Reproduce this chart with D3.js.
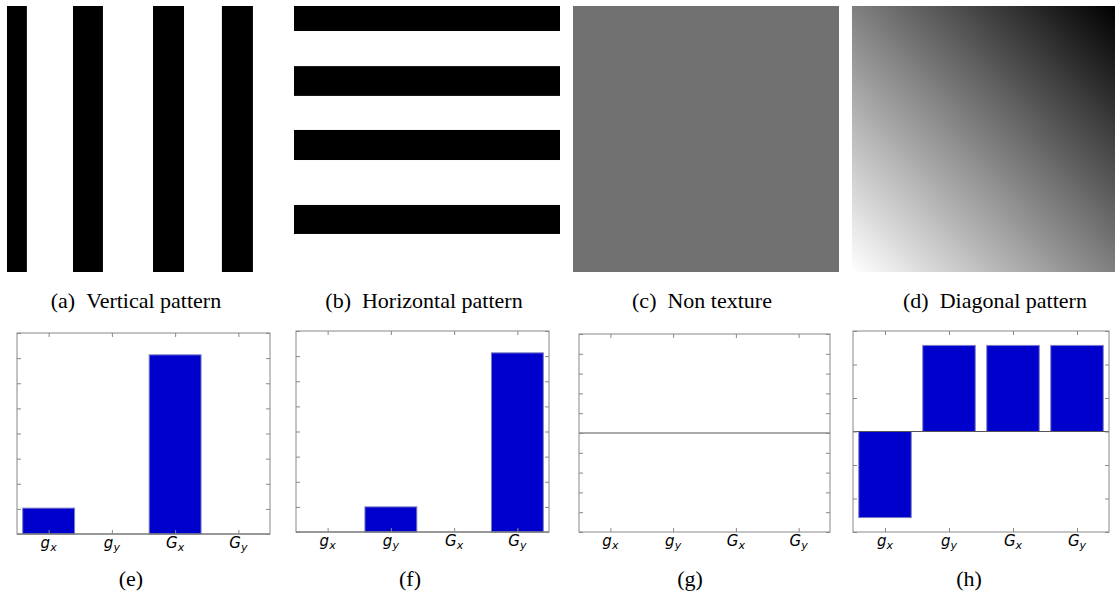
<!DOCTYPE html>
<html>
<head>
<meta charset="utf-8">
<script src="https://cdn.jsdelivr.net/npm/d3@7"></script>
<style>
  body { margin: 0; background: #fff; }
  svg { display: block; }
</style>
</head>
<body>
<div id="chart"></div>
<script>
// category labels (mathtext style: base + subscript)
var categories = ["g_x", "g_y", "G_x", "G_y"];
var catBase = ["g", "g", "G", "G"];
var catSub = ["x", "y", "x", "y"];

// bar values for the four histograms
var valuesE = [1.03, 0, 7.13, 0];
var valuesF = [0, 1.0, 0, 7.13];
var valuesG = [0, 0, 0, 0];
var valuesH = [-2.57, 2.57, 2.57, 2.57];

// y domains of the histograms
var domainE = [0, 8];
var domainF = [0, 8];
var domainG = [-0.05, 0.05];
var domainH = [-3, 3];

// texture images, in image units 0..100
var verticalStripes = [[0, 7.5], [24.9, 36.2], [55.1, 66.8], [81.1, 92.8]];
var horizontalStripes = [[0, 9.4], [22.6, 33.8], [46.6, 57.9], [74.8, 85.7]];
var flatGray = 0.443;
var diagonalStops = [[0, 1], [1, 0]];   // offset, brightness (bottom-left -> top-right)

var topLabels = ["(a)", "(b)", "(c)", "(d)"];
var topTitles = ["Vertical pattern", "Horizontal pattern", "Non texture", "Diagonal pattern"];
var bottomLabels = ["(e)", "(f)", "(g)", "(h)"];

var svg = d3.select("#chart").append("svg")
    .attr("width", 1115)
    .attr("height", 593);

var defs = svg.append("defs");
var grad = defs.append("linearGradient")
    .attr("id", "diag")
    .attr("x1", 0).attr("y1", 1).attr("x2", 1).attr("y2", 0);
grad.selectAll("stop")
    .data(diagonalStops)
  .enter().append("stop")
    .attr("offset", function(d) { return d[0]; })
    .attr("stop-color", function(d) { return d3.rgb(d[1] * 255, d[1] * 255, d[1] * 255); });

// ---- top row: pattern images
var imgBoxes = [
  {x: 7, y: 6, w: 265, h: 266},
  {x: 294, y: 6, w: 266, h: 266},
  {x: 573, y: 6, w: 266, h: 266},
  {x: 852, y: 6, w: 263, h: 266}
];

function imgScales(b) {
  return {
    x: d3.scaleLinear().domain([0, 100]).range([b.x, b.x + b.w]),
    y: d3.scaleLinear().domain([0, 100]).range([b.y, b.y + b.h])
  };
}

// (a) vertical
var ba = imgBoxes[0], sa = imgScales(ba);
svg.append("rect").attr("x", ba.x).attr("y", ba.y).attr("width", ba.w).attr("height", ba.h).attr("fill", "#fff");
svg.append("g").selectAll("rect")
    .data(verticalStripes)
  .enter().append("rect")
    .attr("x", function(d) { return sa.x(d[0]); })
    .attr("width", function(d) { return sa.x(d[1]) - sa.x(d[0]); })
    .attr("y", ba.y)
    .attr("height", ba.h)
    .attr("fill", "#000");

// (b) horizontal
var bb = imgBoxes[1], sb = imgScales(bb);
svg.append("rect").attr("x", bb.x).attr("y", bb.y).attr("width", bb.w).attr("height", bb.h).attr("fill", "#fff");
svg.append("g").selectAll("rect")
    .data(horizontalStripes)
  .enter().append("rect")
    .attr("y", function(d) { return sb.y(d[0]); })
    .attr("height", function(d) { return sb.y(d[1]) - sb.y(d[0]); })
    .attr("x", bb.x)
    .attr("width", bb.w)
    .attr("fill", "#000");

// (c) non texture
var bc = imgBoxes[2];
svg.append("rect").attr("x", bc.x).attr("y", bc.y).attr("width", bc.w).attr("height", bc.h)
    .attr("fill", d3.rgb(flatGray * 255, flatGray * 255, flatGray * 255));

// (d) diagonal
var bd = imgBoxes[3];
svg.append("rect").attr("x", bd.x).attr("y", bd.y).attr("width", bd.w).attr("height", bd.h)
    .attr("fill", "url(#diag)");

// top captions
var topCenters = [136, 424, 702, 995];
topLabels.forEach(function(lab, i) {
  var t = svg.append("text")
      .attr("x", topCenters[i])
      .attr("y", 308)
      .attr("text-anchor", "middle")
      .style("font-family", "'Liberation Serif', 'Times New Roman', serif")
      .style("font-size", "22px")
      .attr("fill", "#000");
  t.append("tspan").text(lab);
  t.append("tspan").attr("dx", "0.5em").text(topTitles[i]);
});

// ---- bottom row: histograms
function drawBars(box, values, domain, nTicks) {
  var g = svg.append("g").attr("transform", "translate(" + box.x + "," + box.y + ")");
  var w = box.w, h = box.h;

  var x = d3.scaleBand()
      .domain(categories)
      .range([0, w])
      .paddingInner(0.18)
      .paddingOuter(0.09);
  var y = d3.scaleLinear().domain(domain).range([h, 0]);

  g.selectAll(".bar")
      .data(values)
    .enter().append("rect")
      .attr("class", "bar")
      .attr("x", function(d, i) { return x(categories[i]); })
      .attr("width", x.bandwidth())
      .attr("y", function(d) { return y(Math.max(0, d)); })
      .attr("height", function(d) { return Math.abs(y(d) - y(0)); })
      .attr("fill", "#0000cd")
      .attr("stroke", "#7b7bc4")
      .attr("stroke-width", 1);

  // zero line
  g.append("line")
      .attr("x1", 0).attr("x2", w)
      .attr("y1", y(0)).attr("y2", y(0))
      .attr("stroke", "#555")
      .attr("stroke-width", 1);

  var yTicks = y.ticks(nTicks);
  var xCenter = function(c) { return x(c) + x.bandwidth() / 2; };

  function styleAxis(a) {
    a.select(".domain").remove();
    a.selectAll("line").attr("stroke", "#888");
    a.selectAll("text").remove();
  }

  g.append("g").call(d3.axisLeft(y).tickValues(yTicks).tickSize(-4)).call(styleAxis);
  g.append("g").attr("transform", "translate(" + w + ",0)")
      .call(d3.axisRight(y).tickValues(yTicks).tickSize(-4)).call(styleAxis);
  var xb = d3.scaleLinear().domain([0, w]).range([0, w]);
  g.append("g").attr("transform", "translate(0," + h + ")")
      .call(d3.axisBottom(xb).tickValues(categories.map(xCenter)).tickSize(-4)).call(styleAxis);
  g.append("g")
      .call(d3.axisTop(xb).tickValues(categories.map(xCenter)).tickSize(-4)).call(styleAxis);

  // frame
  g.append("rect")
      .attr("width", w)
      .attr("height", h)
      .attr("fill", "none")
      .attr("stroke", "#888")
      .attr("stroke-width", 1);

  // category labels
  var lab = g.selectAll(".cat")
      .data(categories)
    .enter().append("text")
      .attr("class", "cat")
      .attr("x", xCenter)
      .attr("y", h + 14)
      .attr("text-anchor", "middle")
      .style("font-family", "'DejaVu Sans', sans-serif")
      .style("font-style", "italic")
      .style("font-size", "15px")
      .attr("fill", "#000");
  lab.append("tspan").text(function(d, i) { return catBase[i]; });
  lab.append("tspan")
      .attr("dy", 3)
      .style("font-size", "11px")
      .text(function(d, i) { return catSub[i]; });
}

var chartBoxes = [
  {x: 17, y: 333, w: 253, h: 201},
  {x: 296, y: 331, w: 253, h: 201},
  {x: 579, y: 334, w: 251, h: 198},
  {x: 853, y: 331, w: 256, h: 201}
];
drawBars(chartBoxes[0], valuesE, domainE, 8);
drawBars(chartBoxes[1], valuesF, domainF, 8);
drawBars(chartBoxes[2], valuesG, domainG, 10);
drawBars(chartBoxes[3], valuesH, domainH, 6);

// bottom captions
var bottomCenters = [131, 410, 690, 969];
svg.selectAll(".bcap")
    .data(bottomLabels)
  .enter().append("text")
    .attr("class", "bcap")
    .attr("x", function(d, i) { return bottomCenters[i]; })
    .attr("y", 586)
    .attr("text-anchor", "middle")
    .style("font-family", "'Liberation Serif', 'Times New Roman', serif")
    .style("font-size", "22px")
    .attr("fill", "#000")
    .text(function(d) { return d; });
</script>
</body>
</html>
